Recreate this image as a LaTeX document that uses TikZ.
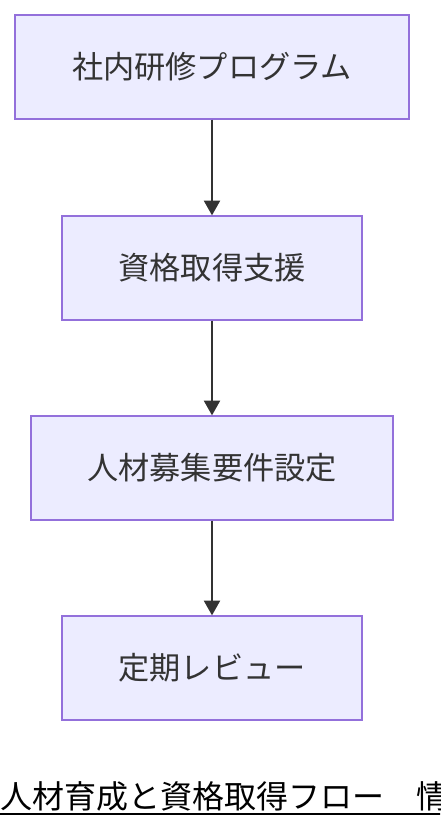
\documentclass[tikz,border=0pt]{standalone}
\usepackage{fontspec}
\setmainfont{Noto Sans CJK JP}
\usetikzlibrary{arrows.meta}
\definecolor{boxfill}{HTML}{ECECFF}
\definecolor{boxline}{HTML}{9370DB}
\definecolor{ink}{HTML}{333333}
\tikzstyle{step box}=[draw=boxline, fill=boxfill, line width=1pt, minimum height=78pt, text=ink, font=\fontsize{23.4}{28}\selectfont]
\tikzstyle{flow}=[draw=ink, line width=1.5pt, -{Triangle[width=12pt,length=11pt]}]
\begin{document}
\begin{tikzpicture}[x=0.75pt, y=-0.75pt]
      \clip (0, 0) rectangle (440, 828);
      \useasboundingbox (0, 0) rectangle (440, 828);
      \node[step box, minimum width=295.5pt] (training) at (212, 67) {社内研修プログラム};
      \node[step box, minimum width=225pt] (support) at (212, 268) {資格取得支援};
      \node[step box, minimum width=271.5pt] (hiring) at (212, 468) {人材募集要件設定};
      \node[step box, minimum width=225pt] (review) at (212, 668) {定期レビュー};
      \draw[flow] (training) to (support);
      \draw[flow] (support) to (hiring);
      \draw[flow] (hiring) to (review);
      \node[anchor=base west, inner sep=0pt, font=\fontsize{24}{28}\selectfont] (title) at (0, 808) {人材育成と資格取得フロー　情};
      \draw[line width=1.5pt] (0, 814) to (title.east |- 0, 814);
    \end{tikzpicture}
\end{document}
